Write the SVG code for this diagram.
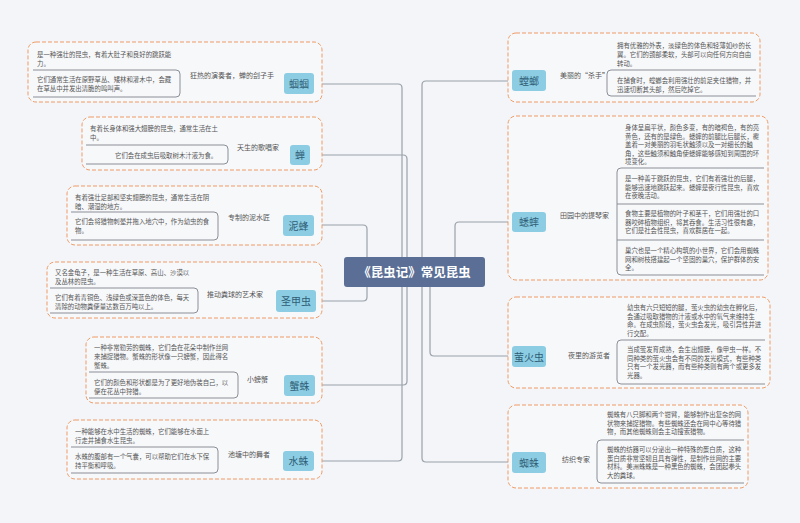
<svg xmlns="http://www.w3.org/2000/svg" width="800" height="523" viewBox="0 0 800 523">
<style>
.t{font-family:"Noto Sans CJK SC","Noto Sans",sans-serif;font-size:6.4px;fill:#555}
.l{font-family:"Noto Sans CJK SC","Noto Sans",sans-serif;font-size:7px;fill:#555}
.n{font-family:"Noto Sans CJK SC","Noto Sans",sans-serif;font-size:10px;fill:#2f5d75;text-anchor:middle}
.box{fill:#f7f8fa;stroke:#ef9b66;stroke-width:1;stroke-dasharray:4 2}
.br{fill:none;stroke:#8a8f96;stroke-width:1}
.nd{fill:#8ccde4}
.c{fill:none;stroke:#9aa2ab;stroke-width:1.2}
</style>
<rect width="800" height="523" fill="#f3f5f8"/>
<g id="connectors">
<path class="c" d="M314,84 H398 Q402,84 402,88 V257"/>
<path class="c" d="M310,155 H403 Q407,155 407,159 V257"/>
<path class="c" d="M314,225 H363 Q367,225 367,229 V257"/>
<path class="c" d="M316,301 H363 Q367,301 367,297 V287"/>
<path class="c" d="M315,385 H403 Q407,385 407,381 V287"/>
<path class="c" d="M314,461 H398 Q402,461 402,457 V287"/>
<path class="c" d="M512,81 H426 Q422,81 422,85 V257"/>
<path class="c" d="M512,222 H459 Q455,222 455,226 V257"/>
<path class="c" d="M512,356 H434 Q430,356 430,352 V287"/>
<path class="c" d="M512,462 H426 Q422,462 422,458 V287"/>
<path class="c" d="M284,84 H180 M290,155 H228 M283,225 H218 M276,301 H198 M284,385 H238 M283,461 H218"/>
<path class="c" d="M546,81 H607 M546,222 H617 M546,356 H617 M546,462 H597"/>
<circle cx="277" cy="84" r="3" fill="#f7f8fa" stroke="#9aa2ab"/>
</g>
<g id="center">
<rect x="344" y="257" width="141" height="30" rx="3" fill="#5b6f96"/>
<text x="414.5" y="276.5" font-family="Noto Sans CJK SC,sans-serif" font-size="12.5" font-weight="bold" fill="#fff" text-anchor="middle">《昆虫记》常见昆虫</text>
</g>
<g id="n-guoguo">
<rect class="box" x="28" y="42" width="294" height="60" rx="8"/>
<text class="t" x="37" y="57">是一种强壮的昆虫，有着大肚子和良好的跳跃能</text><text class="t" x="37" y="66">力。</text>
<path class="br" d="M33,70 H176 Q180,70 180,74 V93 Q180,97 176,97 H33"/>
<text class="t" x="37" y="82">它们通常生活在原野草丛、矮林和灌木中，会藏</text><text class="t" x="37" y="91">在草丛中并发出清脆的鸣叫声。</text>
<text class="l" x="190" y="78">狂热的演奏者，蝉的刽子手</text>
<rect class="nd" x="284" y="73" width="30" height="21" rx="3"/><text class="n" x="299" y="87.5">蝈蝈</text>
</g>
<g id="n-chan">
<rect class="box" x="82" y="117" width="240" height="53" rx="8"/>
<text class="t" x="90" y="131">有着长身体和强大翅膀的昆虫，通常生活在土</text><text class="t" x="90" y="140">中。</text>
<path class="br" d="M86,145 H224 Q228,145 228,149 V160 Q228,164 224,164 H86"/>
<text class="t" x="115" y="158">它们会在成虫后吸取树木汁液为食。</text>
<text class="l" x="237" y="150">天生的歌唱家</text>
<rect class="nd" x="290" y="145" width="20" height="20" rx="3"/><text class="n" x="300" y="159">蝉</text>
</g>
<g id="n-nifeng">
<rect class="box" x="67" y="186" width="255" height="59" rx="8"/>
<text class="t" x="75" y="200">有着强壮足部和坚实翅膀的昆虫，通常生活在阴</text><text class="t" x="75" y="209">暗、潮湿的地方。</text>
<path class="br" d="M71,212 H214 Q218,212 218,216 V236 Q218,240 214,240 H71"/>
<text class="t" x="75" y="224">它们会将猎物刺晕并拖入地穴中，作为幼虫的食</text><text class="t" x="75" y="233">物。</text>
<text class="l" x="228" y="220">专制的泥水匠</text>
<rect class="nd" x="283" y="215" width="31" height="21" rx="3"/><text class="n" x="298.5" y="229.5">泥蜂</text>
</g>
<g id="n-shengjiachong">
<rect class="box" x="47" y="262" width="275" height="56" rx="8"/>
<text class="t" x="55" y="275">又名金龟子，是一种生活在草原、高山、沙漠以</text><text class="t" x="55" y="284">及丛林的昆虫。</text>
<path class="br" d="M50,288 H194 Q198,288 198,292 V309 Q198,313 194,313 H50"/>
<text class="t" x="55" y="300">它们有着青铜色、浅绿色或深蓝色的体色，每天</text><text class="t" x="55" y="309">清除的动物粪便量达数百万吨以上。</text>
<text class="l" x="207" y="297">推动粪球的艺术家</text>
<rect class="nd" x="276" y="290" width="40" height="22" rx="3"/><text class="n" x="296" y="305">圣甲虫</text>
</g>
<g id="n-xiezhu">
<rect class="box" x="86" y="337" width="236" height="66" rx="8"/>
<text class="t" x="94" y="350">一种非常勤劳的蜘蛛，它们会在花朵中制作丝网</text><text class="t" x="94" y="359">来捕捉猎物。蟹蛛的形状像一只螃蟹，因此得名</text><text class="t" x="94" y="368">蟹蛛。</text>
<path class="br" d="M89,372 H234 Q238,372 238,376 V394 Q238,398 234,398 H89"/>
<text class="t" x="94" y="385">它们的颜色和形状都是为了更好地伪装自己，以</text><text class="t" x="94" y="394">便在花丛中狩猎。</text>
<text class="l" x="247" y="382">小螃蟹</text>
<rect class="nd" x="284" y="375" width="31" height="21" rx="3"/><text class="n" x="299.5" y="389.5">蟹蛛</text>
</g>
<g id="n-shuizhu">
<rect class="box" x="67" y="420" width="255" height="59" rx="8"/>
<text class="t" x="75" y="434">一种能够在水中生活的蜘蛛，它们能够在水面上</text><text class="t" x="75" y="443">行走并捕食水生昆虫。</text>
<path class="br" d="M71,447 H214 Q218,447 218,451 V469 Q218,473 214,473 H71"/>
<text class="t" x="75" y="459">水蛛的腹部有一个气囊，可以帮助它们在水下保</text><text class="t" x="75" y="468">持平衡和呼吸。</text>
<text class="l" x="228" y="457">池塘中的舞者</text>
<rect class="nd" x="283" y="451" width="31" height="20" rx="3"/><text class="n" x="298.5" y="465">水蛛</text>
</g>
<g id="n-tanglang">
<rect class="box" x="508" y="33" width="252" height="69" rx="8"/>
<text class="t" x="617" y="48">拥有优雅的外表，淡绿色的体色和轻薄如纱的长</text><text class="t" x="617" y="57">翼。它们的颈部柔软，头部可以向任何方向自由</text><text class="t" x="617" y="66">转动。</text>
<path class="br" d="M756,70 H611 Q607,70 607,74 V92 Q607,96 611,96 H756"/>
<text class="t" x="617" y="83">在捕食时，螳螂会利用强壮的前足夹住猎物，并</text><text class="t" x="617" y="92">迅速切断其头部，然后吃掉它。</text>
<text class="l" x="560" y="78">美丽的“杀手”</text>
<rect class="nd" x="512" y="70" width="34" height="21" rx="3"/><text class="n" x="529" y="84.5">螳螂</text>
</g>
<g id="n-xishuai">
<rect class="box" x="508" y="116" width="260" height="164" rx="8"/>
<text class="t" x="625" y="130">身体呈扁平状，颜色多变，有的暗褐色，有的亮</text><text class="t" x="625" y="138.5">黄色，还有的是绿色。蟋蟀的前腿比后腿长，覆</text><text class="t" x="625" y="147">盖着一对美丽的羽毛状触须以及一对细长的触</text><text class="t" x="625" y="155.5">角，这些触须和触角使蟋蟀能够感知到周围的环</text><text class="t" x="625" y="164">境变化。</text>
<path class="br" d="M764,168 H621 Q617,168 617,172 V271 Q617,275 621,275 H764 M617,204 H764 M617,240 H764"/>
<text class="t" x="625" y="181">是一种善于跳跃的昆虫，它们有着强壮的后腿，</text><text class="t" x="625" y="189.5">能够迅速地跳跃起来。蟋蟀是夜行性昆虫，喜欢</text><text class="t" x="625" y="198">在夜晚活动。</text>
<text class="t" x="625" y="216">食物主要是植物的叶子和茎干，它们用强壮的口</text><text class="t" x="625" y="224.5">器咬碎植物组织，将其吞食。生活习性很有趣，</text><text class="t" x="625" y="233">它们是社会性昆虫，喜欢群居在一起。</text>
<text class="t" x="625" y="253">巢穴也是一个精心构筑的小世界，它们会用蜘蛛</text><text class="t" x="625" y="261.5">网和树枝搭建起一个坚固的巢穴，保护群体的安</text><text class="t" x="625" y="270">全。</text>
<text class="l" x="560" y="218">田园中的提琴家</text>
<rect class="nd" x="512" y="212" width="34" height="20" rx="3"/><text class="n" x="529" y="226">蟋蟀</text>
</g>
<g id="n-yinghuochong">
<rect class="box" x="508" y="297" width="262" height="91" rx="8"/>
<text class="t" x="627" y="310">幼虫有六只短短的腿，萤火虫的幼虫在孵化后，</text><text class="t" x="627" y="318.5">会通过吸取猎物的汁液或水中的氧气来维持生</text><text class="t" x="627" y="327">命。在成虫阶段，萤火虫会发光，吸引异性并进</text><text class="t" x="627" y="335.5">行交配。</text>
<path class="br" d="M765,340 H621 Q617,340 617,344 V380 Q617,384 621,384 H765"/>
<text class="t" x="627" y="352">当成萤发育成熟，会生出翅膀，像甲虫一样。不</text><text class="t" x="627" y="360.5">同种类的萤火虫会有不同的发光模式，有些种类</text><text class="t" x="627" y="369">只有一个发光器，而有些种类则有两个或更多发</text><text class="t" x="627" y="377.5">光器。</text>
<text class="l" x="568" y="358">夜里的游览者</text>
<rect class="nd" x="512" y="346" width="34" height="21" rx="3"/><text class="n" x="529" y="360.5">萤火虫</text>
</g>
<g id="n-zhizhu">
<rect class="box" x="508" y="405" width="240" height="83" rx="8"/>
<text class="t" x="607" y="417">蜘蛛有八只脚和两个钳臂，能够制作出复杂的网</text><text class="t" x="607" y="425.5">状物来捕捉猎物。有些蜘蛛还会在网中心等待猎</text><text class="t" x="607" y="434">物，而其他蜘蛛则会主动搜索猎物。</text>
<path class="br" d="M744,440 H601 Q597,440 597,444 V479 Q597,483 601,483 H744"/>
<text class="t" x="607" y="452">蜘蛛的纺器可以分泌出一种特殊的蛋白质，这种</text><text class="t" x="607" y="460.5">蛋白质非常坚韧且具有弹性，是制作丝网的主要</text><text class="t" x="607" y="469">材料。美洲蛛蛛是一种黑色的蜘蛛，会团起拳头</text><text class="t" x="607" y="477.5">大的粪球。</text>
<text class="l" x="562" y="462">纺织专家</text>
<rect class="nd" x="512" y="452" width="34" height="21" rx="3"/><text class="n" x="529" y="466.5">蜘蛛</text>
</g>
</svg>
